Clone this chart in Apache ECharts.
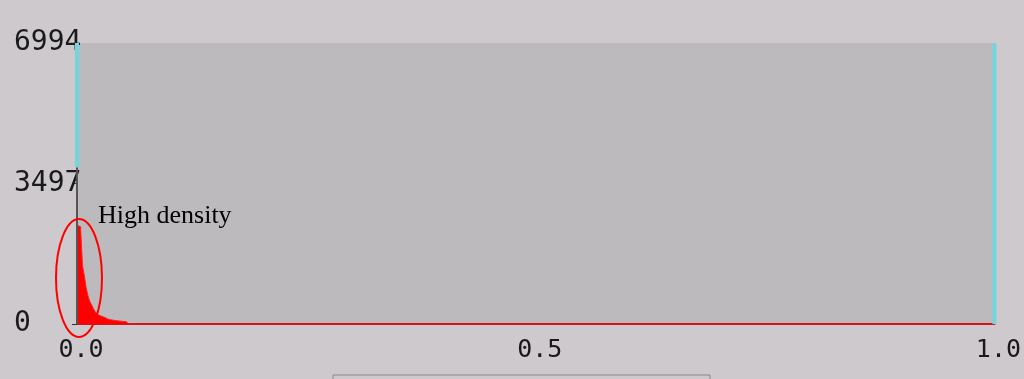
<!DOCTYPE html>
<html>
<head>
<meta charset="utf-8">
<script src="https://cdn.jsdelivr.net/npm/echarts@6/dist/echarts.min.js"></script>
<style>
html,body{margin:0;padding:0;background:#cdc9cc;}
#chart{width:1024px;height:379px;}
</style>
</head>
<body>
<div id="chart"></div>
<script>
// Histogram bin left edges (fraction of range) and counts
const binStarts = [0.000,0.002,0.004,0.006,0.008,0.010,0.012,0.014,0.016,0.018,0.020,0.022,0.024,0.026,0.028,0.030,0.032,0.034,0.036,0.038,0.040,0.042,0.044,0.046,0.048,0.050,0.052,0.054];
const binCounts = [2460,2420,2350,1450,1200,900,700,560,470,380,300,240,200,180,165,145,120,110,100,95,85,80,75,70,65,60,55,50];
const binWidth = 0.002;
const yTicks = [0, 3497, 6994];
const xTicks = [0.0, 0.5, 1.0];
const leftMarkerSplit = 3900; // where the left marker changes from grey to cyan
const annotation = "High density";

const chart = echarts.init(document.getElementById('chart'));
const histData = binStarts.map((x, i) => [x, binCounts[i]]);
histData.push([binStarts[binStarts.length - 1] + binWidth, 0]);

const option = {
  animation: false,
  backgroundColor: '#cdc9cc',
  grid: {left: 77, right: 27, top: 43, bottom: 55, show: true, backgroundColor: '#bdbabd', borderWidth: 0},
  xAxis: {
    type: 'value', min: xTicks[0], max: xTicks[2], interval: 0.5,
    axisLine: {show: true, lineStyle: {color: '#d01818', width: 2}},
    axisTick: {show: false},
    splitLine: {show: false},
    axisLabel: {margin: 14, color: '#1a1a1a', fontFamily: 'DejaVu Sans Mono', fontSize: 25,
      formatter: v => v.toFixed(1), padding: [0, 0, 0, 8]}
  },
  yAxis: {
    type: 'value', min: yTicks[0], max: yTicks[2], interval: yTicks[1],
    axisLine: {show: false},
    axisTick: {show: true, length: 5, lineStyle: {color: '#333'}},
    splitLine: {show: false},
    axisLabel: {margin: 63, align: 'left', color: '#1a1a1a', fontFamily: 'DejaVu Sans Mono', fontSize: 28,
      formatter: v => String(v)}
  },
  series: [
    {
      type: 'line', step: 'end', symbol: 'none', data: histData,
      lineStyle: {color: '#ff2020', width: 1},
      areaStyle: {color: '#ff0000', opacity: 1}, z: 3
    },
    {
      type: 'line', symbol: 'none', data: [[0, 0], [0, leftMarkerSplit]],
      lineStyle: {color: '#555555', width: 2}, z: 4
    },
    {
      type: 'line', symbol: 'none', data: [[0, leftMarkerSplit], [0, yTicks[2]]],
      lineStyle: {color: '#72d6dd', width: 4}, z: 4
    },
    {
      type: 'line', symbol: 'none', data: [[1, 0], [1, yTicks[2]]],
      lineStyle: {color: '#72d6dd', width: 4}, z: 4
    }
  ],
  graphic: [
    {type: 'ellipse', shape: {cx: 79, cy: 278, rx: 23, ry: 59},
     style: {fill: null, stroke: '#ff0000', lineWidth: 2}, z: 10},
    {type: 'text', left: 98, top: 203,
     style: {text: annotation, fill: '#000', font: '26px "Liberation Serif"'}, z: 10},
    {type: 'rect', shape: {x: 333, y: 375, width: 377, height: 8},
     style: {fill: '#cdc9cc', stroke: '#8a878a', lineWidth: 1}, z: 10}
  ]
};
chart.setOption(option);
</script>
</body>
</html>
